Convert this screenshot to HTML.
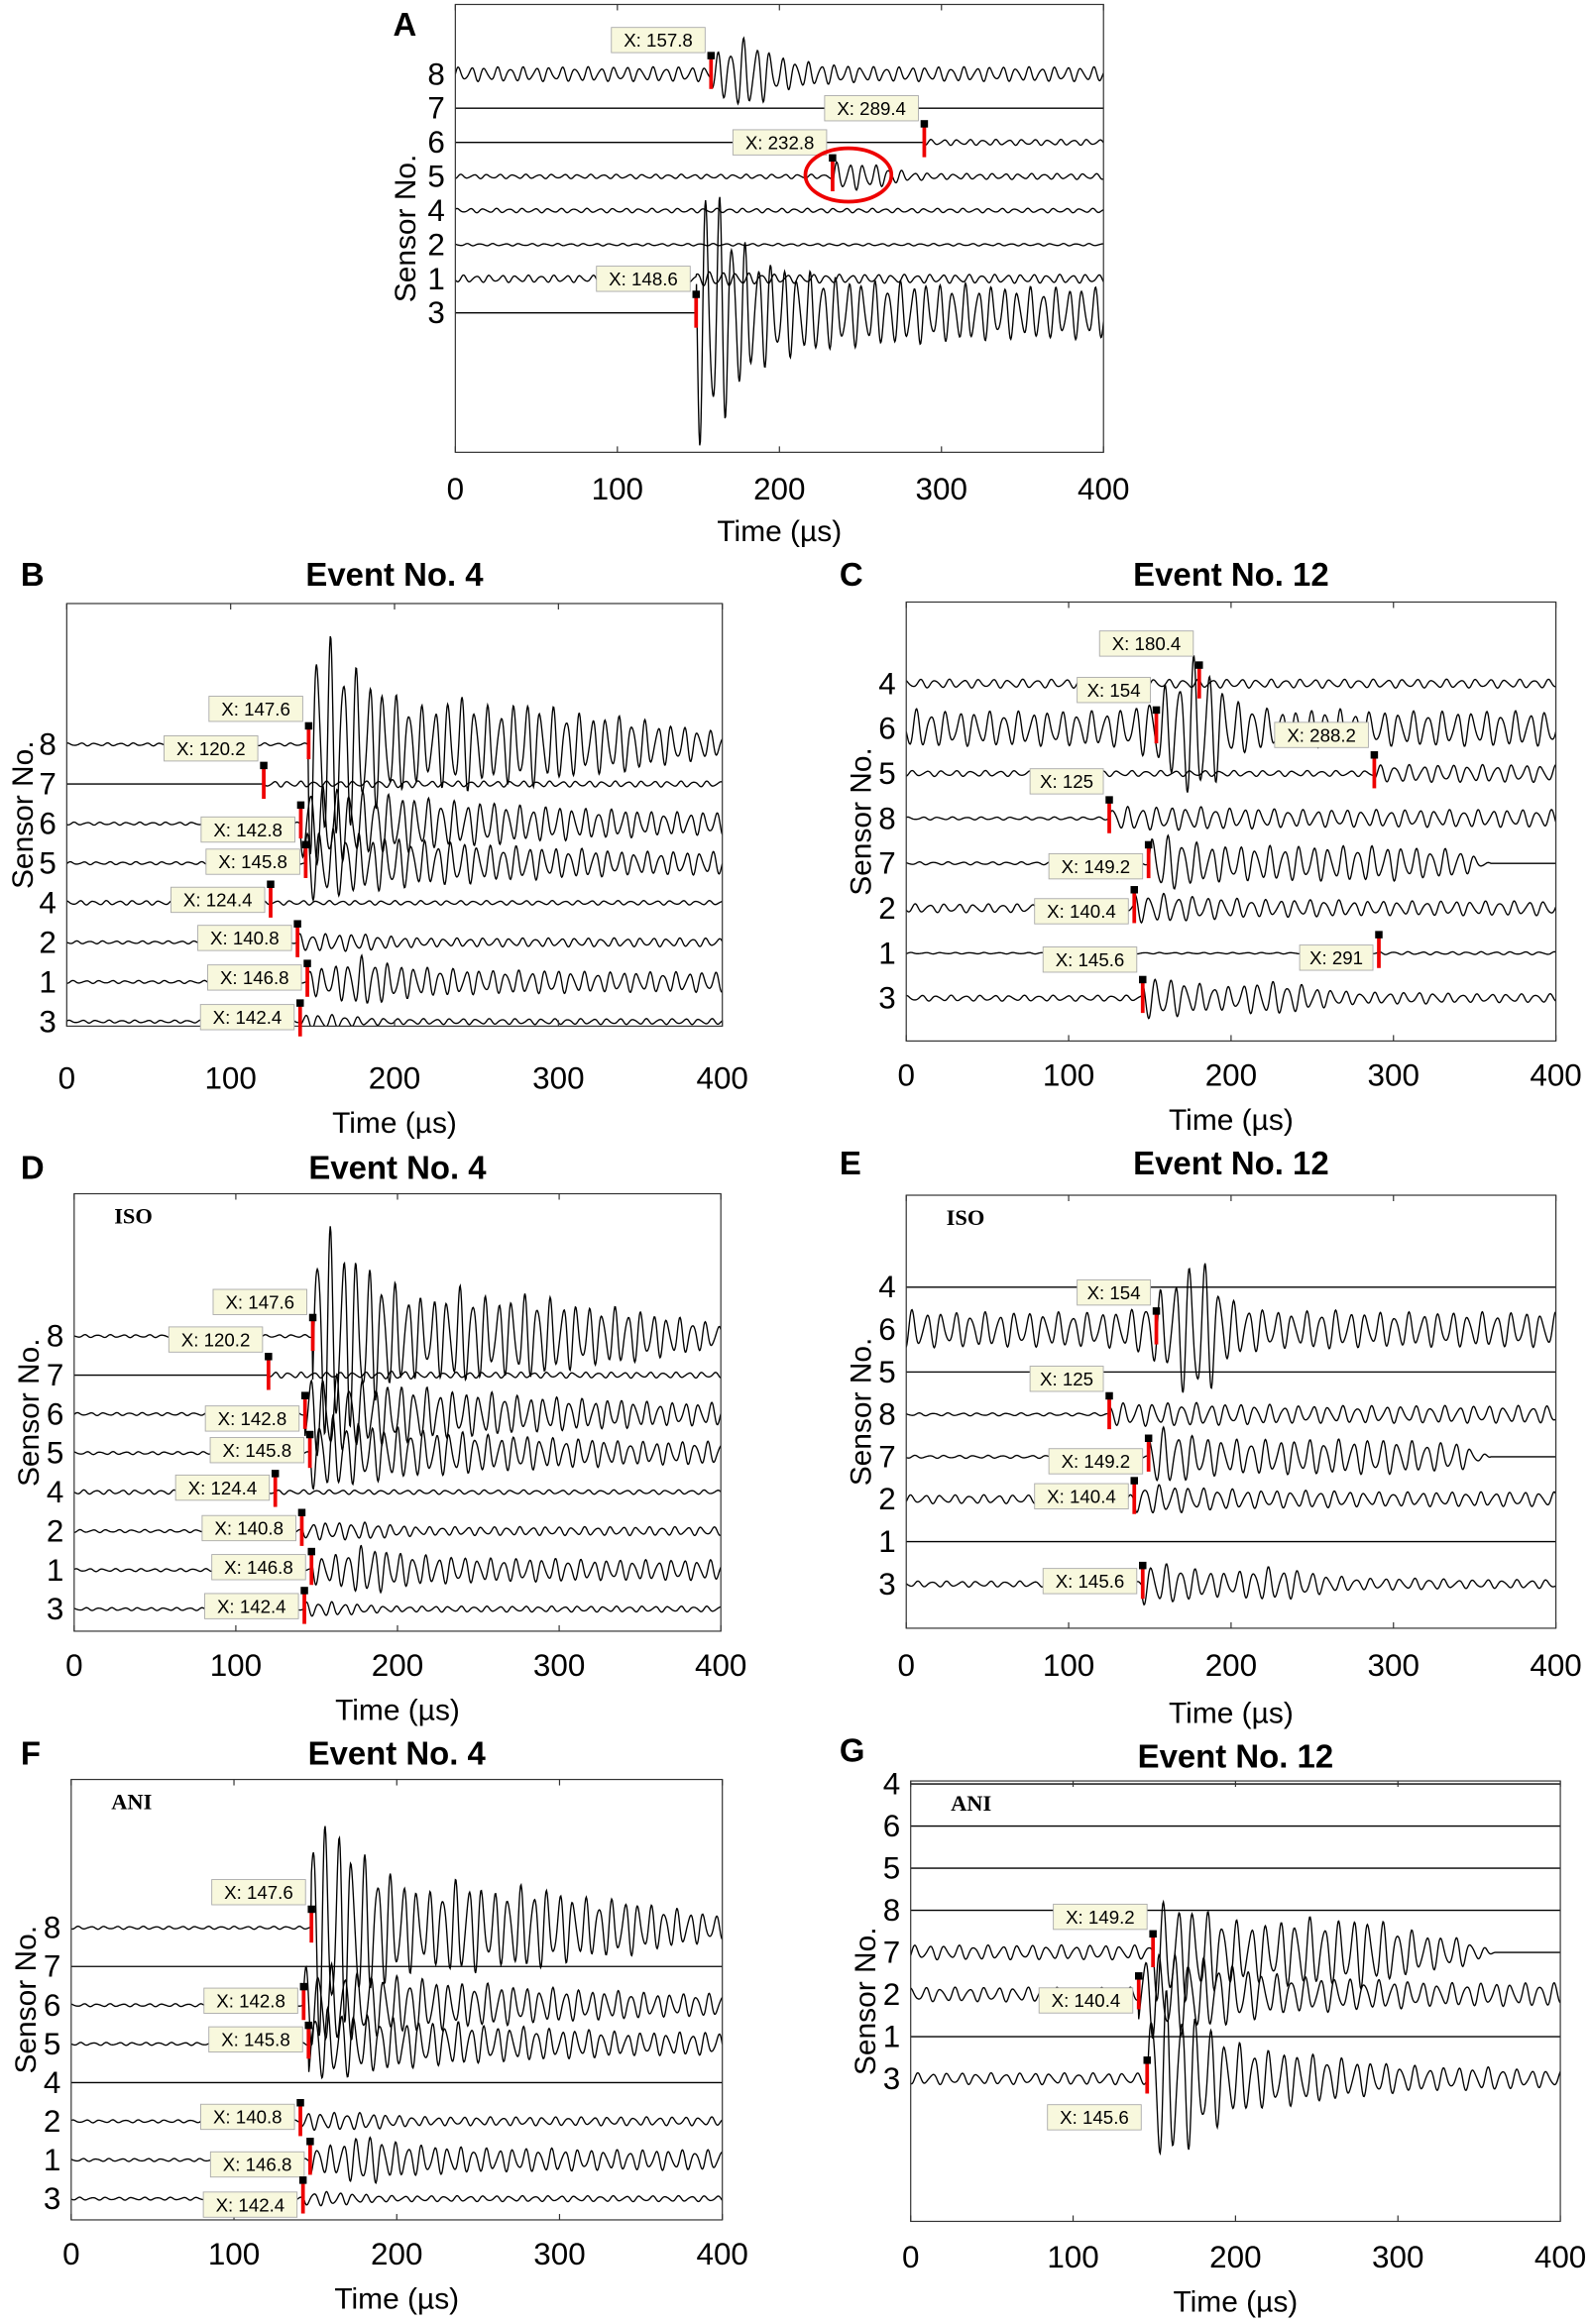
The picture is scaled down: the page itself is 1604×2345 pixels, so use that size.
<!DOCTYPE html>
<html><head><meta charset="utf-8">
<style>
html,body{margin:0;padding:0;background:#fff;}
svg{display:block;font-family:"Liberation Sans",sans-serif;}
</style></head>
<body>
<svg id="fig" width="1604" height="2345" viewBox="0 0 1072 1567.2" preserveAspectRatio="none" xmlns="http://www.w3.org/2000/svg"></svg>
<script>
// ---------- DATA (times in µs; envelope amplitudes sampled every 20 µs from 0..400) ----------
const tickLabels = [0,100,200,300,400];

// Panel A
const sensorsA = [8,7,6,5,4,2,1,3];
const onsetA = [157.8,0,289.4,232.8,0,0,148.6,148.6];
const envA = [
 [5,5,5,5,5,5,5,5,14,26,12,8,6,5,5,5,5,5,5,5,5],
 [0,0,0,0,0,0,0,0,0,0,0,0,0,0,0,0,0,0,0,0,0],
 [0,0,0,0,0,0,0,0,0,0,0,0,0,0,0,2,2,2,2,2,2],
 [1.5,1.5,1.5,1.5,1.5,1.5,1.5,1.5,1.5,1.5,1.5,1.5,10,8,3,2,2,2,2,2,2],
 [1.5,1.5,1.5,1.5,1.5,1.5,1.5,1.5,1.5,1.5,1.5,1.5,1.5,1.5,1.5,1.5,1.5,1.5,1.5,1.5,1.5],
 [0.8,0.8,0.8,0.8,0.8,0.8,0.8,0.8,0.8,0.8,0.8,0.8,0.8,0.8,0.8,0.8,0.8,0.8,0.8,0.8,0.8],
 [2.5,2.5,2.5,2.5,2.5,2.5,2.5,2.5,5,4,3,3,3,3,3,3,3,3,3,3,3],
 [0,0,0,0,0,0,0,0,90,45,32,28,24,22,22,20,20,18,18,18,18]
];
const markA = [[0,157.8,-23],[2,289.4,-23],[3,232.8,-23],[7,148.6,-23]];

// Panel B / D / F (Event 4)
const sensorsB = [8,7,6,5,4,2,1,3];
const onsetB = [147.6,120.2,142.8,145.8,0,140.8,146.8,142.4];
const envB = [
 [1,1,1,1,1,1,1,1,75,50,35,25,35,25,30,25,20,20,15,12,8],
 [0,0,0,0,0,0,2,2,2,2,3,2,2,2,2,2,2,2,2,2,2],
 [1,1,1,1,1,1,1,30,28,22,20,18,15,15,12,12,10,10,8,8,8],
 [1,1,1,1,1,1,1,22,25,20,18,15,15,12,12,10,10,8,8,8,8],
 [1.5,1.5,1.5,1.5,1.5,1.5,1.5,1.5,1.5,1.5,1.5,1.5,1.5,1.5,1.5,1.5,1.5,1.5,1.5,1.5,1.5],
 [1,1,1,1,1,1,1,4,6,6,4,3,3,3,3,3,3,3,3,3,3],
 [1,1,1,1,1,1,1,8,10,18,12,10,9,8,8,8,7,7,7,7,7],
 [1,1,1,1,1,1,1,10,5,3,2,2,2,2,2,2,2,2,2,2,2]
];
const markB = [[0,147.6,-24],[1,120.2,-24],[2,142.8,4],[3,145.8,-1],[4,124.4,-2],[5,140.8,-3],[6,146.8,-3],[7,142.4,-3]];
const markD = [[0,147.6,-23],[1,120.2,-24],[2,142.8,3],[3,145.8,-2],[4,124.4,-3],[5,140.8,-2],[6,146.8,-2],[7,142.4,-2]];
const envF7 = [0,0,0,0,0,0,0,0,0,0,0,0,0,0,0,0,0,0,0,0,0];
const markF = [[0,147.6,-24],[2,142.8,-3],[3,145.8,-3],[5,140.8,-3],[6,146.8,3],[7,142.4,4]];

// Panel C / E / G (Event 12)
const sensorsC = [4,6,5,8,7,2,1,3];
const onsetC = [170,0,288.2,125,149.2,140.4,291,145.6];
const envC = [
 [3,3,3,3,3,3,3,3,3,3,3,3,3,3,3,3,3,3,3,3,3],
 [14,12,12,12,12,12,12,14,30,55,20,14,12,14,12,12,12,12,12,12,12],
 [2,2,2,2,2,2,2,2,2,2,2,2,2,2,6,6,6,6,6,6,6],
 [1,1,1,1,1,1,8,8,8,8,7,7,6,6,6,6,6,6,6,6,6],
 [1,1,1,1,1,1,1,15,20,14,12,12,12,12,12,12,10,10,0,0,0],
 [3,3,3,3,3,3,3,10,10,8,7,6,6,6,5,5,5,5,5,5,5],
 [0.5,0.5,0.5,0.5,0.5,0.5,0.5,0.5,0.5,0.5,0.5,0.5,0.5,0.5,1,1,1,1,1,1,1],
 [2,2,2,2,2,2,2,20,14,10,8,12,10,6,4,4,4,3,3,3,3]
];
const markC = [[0,180.4,-27],[1,154,-26],[2,288.2,-26],[3,125,-25],[4,149.2,2],[5,140.4,2],[6,291,3],[7,145.6,-26]];
const markE = [[1,154,-25],[3,125,-24],[4,149.2,3],[5,140.4,-2],[7,145.6,-2]];
const envG7 = [5,5,5,5,5,5,5,40,35,30,22,20,25,22,25,18,12,10,0,0,0];
const envG2 = [5,5,5,5,5,5,5,40,30,25,20,15,12,12,10,10,8,8,8,8,8];
const envG3 = [4,4,4,4,4,4,4,90,60,40,25,20,18,15,12,10,8,8,8,6,6];
const markG = [[4,149.2,-24],[5,140.4,4],[7,145.6,26]];

const zero = envF7;
const envE = [zero, envC[1], zero, envC[3], envC[4], envC[5], zero, envC[7]];
const envFarr = [envB[0], zero, envB[2], envB[3], zero, envB[5], envB[6], envB[7]];
const envGarr = [zero, zero, zero, zero, envG7, envG2, zero, envG3];

// ---------- LAYOUT ----------
const panels = [
 {id:'A', box:[307,3,744,305], y0:50, dy:23, tickY:337, timeY:365, title:null, letter:[265,24], slx:274, sensors:sensorsA, env:envA, onset:onsetA, marks:markA, period:8},
 {id:'B', box:[45,407,487,692], y0:502, dy:26.7, tickY:734, timeY:764, title:'Event No. 4', titleY:395, letter:[14,395], slx:16, sensors:sensorsB, env:envB, onset:onsetB, marks:markB, period:8},
 {id:'C', box:[611,406,1049,702], y0:461, dy:30.3, tickY:732, timeY:762, title:'Event No. 12', titleY:395, letter:[566,395], slx:581, sensors:sensorsC, env:envC, onset:onsetC, marks:markC, period:9},
 {id:'D', box:[50,805,486,1100], y0:901, dy:26.3, tickY:1130, timeY:1160, title:'Event No. 4', titleY:795, letter:[14,795], slx:20, sensors:sensorsB, env:envB, onset:onsetB, marks:markD, period:8, sub:'ISO'},
 {id:'E', box:[611,806,1049,1098], y0:868, dy:28.6, tickY:1130, timeY:1162, title:'Event No. 12', titleY:792, letter:[566,792], slx:581, sensors:sensorsC, env:envE, onset:onsetC, marks:markE, period:9, sub:'ISO'},
 {id:'F', box:[48,1200,487,1497], y0:1300, dy:26.1, tickY:1527, timeY:1557, title:'Event No. 4', titleY:1190, letter:[14,1190], slx:18, sensors:sensorsB, env:envFarr, onset:onsetB, marks:markF, period:8, sub:'ANI'},
 {id:'G', box:[614,1201,1052,1498], y0:1203, dy:28.4, tickY:1529, timeY:1559, title:'Event No. 12', titleY:1192, letter:[566,1188], slx:584, sensors:sensorsC, env:envGarr, onset:onsetC, marks:markG, period:9, sub:'ANI'}
];

const NS='http://www.w3.org/2000/svg';
const svg=document.getElementById('fig');
function mk(tag, attrs, parent){const e=document.createElementNS(NS,tag);for(const k in attrs)e.setAttribute(k,attrs[k]);(parent||svg).appendChild(e);return e;}
function envAt(env,t,onset){
  if(t<onset) return env[0];
  let i=Math.min(19,Math.floor(t/20));
  if(i*20<onset && onset>0){ return env[Math.min(20,i+1)]; }
  const f=(t-i*20)/20;return env[i]*(1-f)+env[i+1]*f;
}

panels.forEach((p,pi)=>{
  const [x0,y0,x1,y1]=p.box;
  const xs=t=>x0+t/400*(x1-x0);
  const g=mk('g',{});
  
  
  const cp=mk('clipPath',{id:'cp'+p.id},g);
  mk('rect',{x:x0,y:y0,width:x1-x0,height:y1-y0},cp);
  const tg=mk('g',{'clip-path':'url(#cp'+p.id+')'},g);
  p.sensors.forEach((s,i)=>{
    const ty=p.y0+i*p.dy;
    const env=p.env[i];
    const on=p.onset[i];
    let d='';
    const ph=i*1.7+pi*0.9;
    for(let t=0;t<=400;t+=0.4){
      const a=envAt(env,t,on);
      const v=a*(0.8*Math.sin(2*Math.PI*t/p.period+ph)+0.2*Math.sin(2*Math.PI*t/(p.period*0.63)+ph*2));
      d+=(t===0?'M':'L')+xs(t).toFixed(2)+','+(ty-v).toFixed(2);
    }
    const path=mk('path',{d:d,fill:'none',stroke:'#000','stroke-width':0.9},tg);
    
    
    const yl=mk('text',{x:x0-7,y:ty+7,'text-anchor':'end','font-size':21},g);
    yl.textContent=s;
    
    
  });
  const bx=mk('rect',{x:x0,y:y0,width:x1-x0,height:y1-y0,fill:'none',stroke:'#333','stroke-width':0.8},g);
  
  
  tickLabels.forEach(v=>{
    mk('line',{x1:xs(v),x2:xs(v),y1:y1,y2:y1-4,stroke:'#333','stroke-width':0.8},g);
    mk('line',{x1:xs(v),x2:xs(v),y1:y0,y2:y0+4,stroke:'#333','stroke-width':0.8},g);
    const tl=mk('text',{x:xs(v),y:p.tickY,'text-anchor':'middle','font-size':21},g);
    tl.textContent=v;
    
    
  });
  const xt=mk('text',{x:(x0+x1)/2,y:p.timeY,'text-anchor':'middle','font-size':20},g);
  xt.textContent='Time  (\u00b5s)';
  
  
  const yc=(y0+y1)/2;
  const yt=mk('text',{x:p.slx+6,y:yc,'text-anchor':'middle','font-size':20,transform:'rotate(-90 '+(p.slx+6)+' '+yc+')'},g);
  yt.textContent='Sensor No.';
  
  
  const lt=mk('text',{x:p.letter[0],y:p.letter[1],'font-size':22,'font-weight':'bold'},g);
  lt.textContent=p.id;
  
  
  if(p.title){
    const tt=mk('text',{x:(x0+x1)/2,y:p.titleY,'text-anchor':'middle','font-size':22,'font-weight':'bold'},g);
    tt.textContent=p.title;
    
    
  }
  if(p.sub){
    const st=mk('text',{x:x0+27,y:y0+20,'font-size':15,'font-weight':'bold','font-family':'"Liberation Serif",serif'},g);
    st.textContent=p.sub;
    
    
  }
  p.marks.forEach(m=>{
    const ty=p.y0+m[0]*p.dy;
    const mx=xs(m[1]);
    const r=mk('line',{x1:mx,x2:mx,y1:ty-11,y2:ty+10,stroke:'#e00','stroke-width':2.5},g);
    
    
    mk('rect',{x:mx-2.5,y:ty-15,width:5,height:5,fill:'#000'},g);
    const txt='X: '+m[1];
    const w=txt.length*6.9+8;
    const ly=ty+m[2];
    const lb=mk('rect',{x:mx-4-w,y:ly-8.5,width:w,height:17,fill:'#f8f8dd',stroke:'#aaa','stroke-width':0.6},g);
    
    
    const lt2=mk('text',{x:mx-4-w/2,y:ly+4.5,'text-anchor':'middle','font-size':12.5},g);
    lt2.textContent=txt;
    
    
  });
  if(p.id==='A'){
    const c=mk('ellipse',{cx:572,cy:118,rx:29,ry:18,fill:'none',stroke:'#e00','stroke-width':2.5},g);
    
    
  }
});
</script>
</body></html>
